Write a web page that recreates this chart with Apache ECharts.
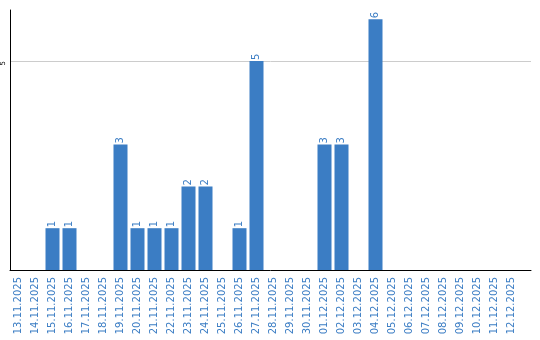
<!DOCTYPE html>
<html><head><meta charset="utf-8">
<script src="https://cdn.jsdelivr.net/npm/echarts@6/dist/echarts.min.js"></script>
<style>html,body{margin:0;padding:0;background:#fff}#c{width:540px;height:340px}</style>
</head><body><div id="c"></div>
<script>
const categories = ["13.11.2025","14.11.2025","15.11.2025","16.11.2025","17.11.2025","18.11.2025","19.11.2025","20.11.2025","21.11.2025","22.11.2025","23.11.2025","24.11.2025","25.11.2025","26.11.2025","27.11.2025","28.11.2025","29.11.2025","30.11.2025","01.12.2025","02.12.2025","03.12.2025","04.12.2025","05.12.2025","06.12.2025","07.12.2025","08.12.2025","09.12.2025","10.12.2025","11.12.2025","12.12.2025"];
const values = [0,0,1,1,0,0,3,1,1,1,2,2,0,1,5,0,0,0,3,3,0,6,0,0,0,0,0,0,0,0];
const yTicks = [5];

const blue = '#3b7dc4';
const chart = echarts.init(document.getElementById('c'));
chart.setOption({
  animation: false,
  grid: [
    {left: 10, right: 9, top: 10, bottom: 70},
    {left: 10, width: 510, top: 10, bottom: 70}
  ],
  xAxis: [
    {gridIndex: 0, type: 'category', data: [''], axisLine: {lineStyle: {color: '#000', width: 1}}, axisTick: {show: false}, axisLabel: {show: false}},
    {gridIndex: 1, type: 'category', data: categories, axisLine: {show: false}, axisTick: {show: false},
     axisLabel: {interval: 0, rotate: 90, fontSize: 10, fontFamily: 'DejaVu Sans', color: blue, margin: 7}}
  ],
  yAxis: [
    {gridIndex: 0, type: 'value', min: 0, max: 6.22, interval: yTicks[0],
     axisLine: {show: true, lineStyle: {color: '#000', width: 1}}, axisTick: {show: false},
     splitLine: {showMinLine: false, showMaxLine: false, lineStyle: {color: '#cccccc', width: 1}},
     axisLabel: {rotate: 90, fontSize: 7, fontFamily: 'DejaVu Sans', color: '#000', margin: 3, align: 'right', verticalAlign: 'bottom', showMinLabel: false, showMaxLabel: false}},
    {gridIndex: 1, type: 'value', min: 0, max: 6.22, show: false}
  ],
  series: [{
    type: 'bar', xAxisIndex: 1, yAxisIndex: 1, data: values.map(v => v === 0 ? null : v), barWidth: 14,
    itemStyle: {color: blue},
    label: {show: true, position: 'top', rotate: 90, align: 'left', verticalAlign: 'middle', distance: 1, fontSize: 10, fontFamily: 'DejaVu Sans', color: blue}
  }]
});
</script></body></html>
